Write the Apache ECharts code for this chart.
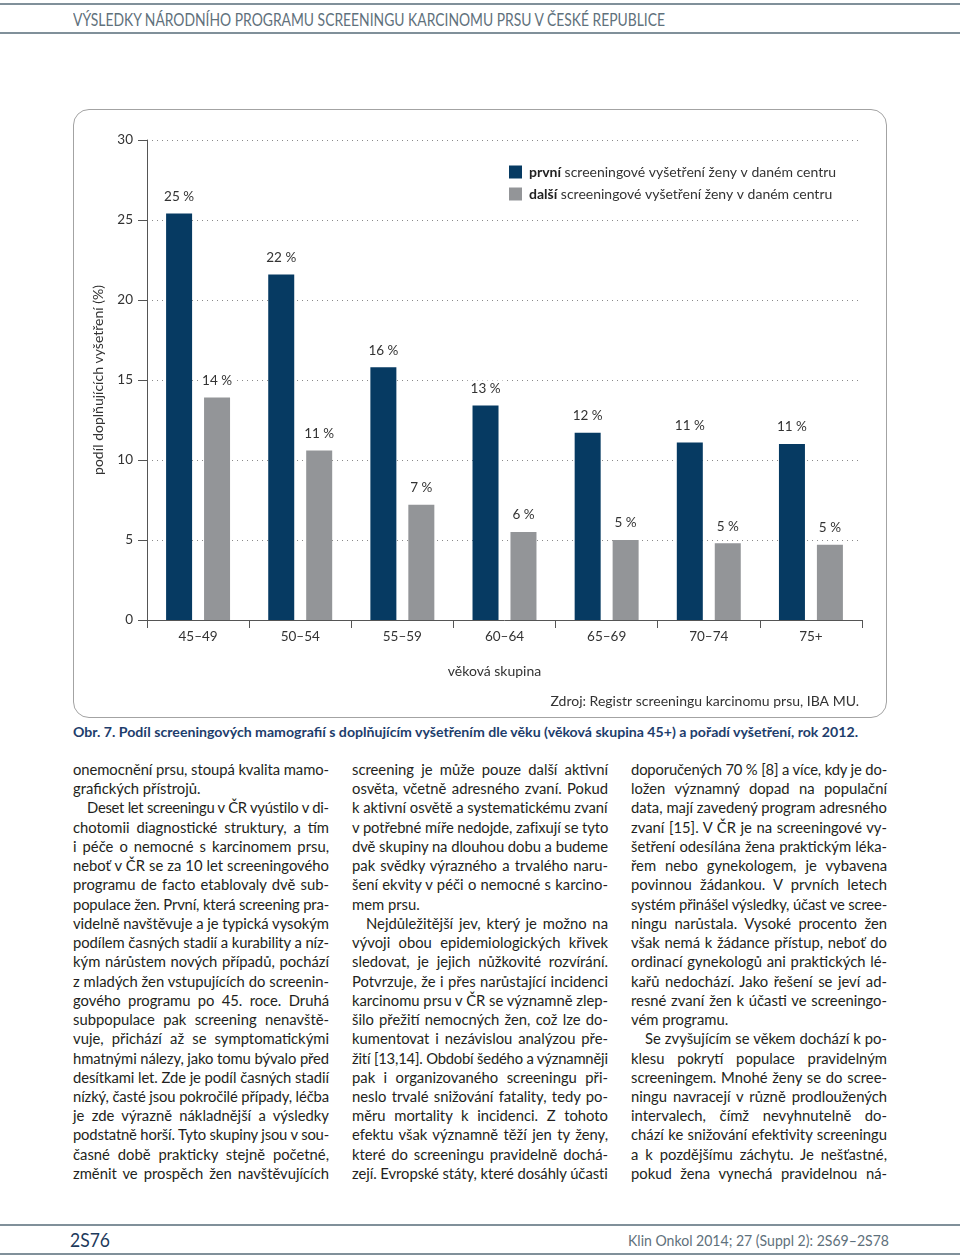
<!DOCTYPE html>
<html>
<head>
<meta charset="utf-8">
<script src="https://cdn.jsdelivr.net/npm/echarts@6/dist/echarts.min.js"></script>
<style>
  html, body { margin:0; padding:0; background:#fff; }
  body { width:960px; height:1258px; position:relative; overflow:hidden; font-family:Lato, 'Noto Sans', sans-serif; color:#231f20; }
  .rule { position:absolute; left:0; width:960px; height:2px; background:#80909a; }
  .abs { position:absolute; white-space:nowrap; }
  #box { position:absolute; left:73px; top:109px; width:814px; height:609px; box-sizing:border-box; border:1px solid #a3a3a3; border-radius:16px; }
  #chart { position:absolute; left:73px; top:109px; width:814px; height:609px; }
  .col { position:absolute; top:760px; width:256px; }
  .ln { height:19.24px; line-height:19.24px; font-size:14.8px; white-space:nowrap; }
  .ln span { display:inline-block; white-space:nowrap; }
  .ind { padding-left:14px; }
</style>
</head>
<body>
<div class="rule" style="top:3px"></div>
<div class="rule" style="top:32px"></div>
<div class="abs" id="hdr" style="left:73px; top:10px; font-size:17px; line-height:19px; font-weight:400; color:#5f717c;">VÝSLEDKY NÁRODNÍHO PROGRAMU SCREENINGU KARCINOMU PRSU V ČESKÉ REPUBLICE</div>

<div id="box"></div>
<div id="chart"></div>

<div class="abs" id="cap" style="left:73px; top:724px; font-size:14px; line-height:16px; font-weight:700; color:#1d3d6c;">Obr. 7. Podíl screeningových mamografií s doplňujícím vyšetřením dle věku (věková skupina 45+) a pořadí vyšetření, rok 2012.</div>

<div class="col" id="c1" style="left:73px"></div>
<div class="col" id="c2" style="left:352px"></div>
<div class="col" id="c3" style="left:631px"></div>

<div class="rule" style="top:1224px"></div>
<div class="rule" style="top:1253px"></div>
<div class="abs" id="pg" style="left:70px; top:1230px; font-size:19px; line-height:20px; color:#1d3a5c;">2S76</div>
<div class="abs" id="jr" style="left:628px; top:1231px; font-size:16px; line-height:18px; font-weight:400; color:#5f717c;">Klin Onkol 2014; 27 (Suppl 2): 2S69–2S78</div>

<script>
// ---- chart data ----
const categories = ['45–49', '50–54', '55–59', '60–64', '65–69', '70–74', '75+'];
const firstExam = [25.4, 21.6, 15.8, 13.4, 11.7, 11.1, 11.0];
const furtherExam = [13.9, 10.6, 7.2, 5.5, 5.0, 4.8, 4.7];
const seriesNames = ['první screeningové vyšetření ženy v daném centru', 'další screeningové vyšetření ženy v daném centru'];
const yTicks = [0, 5, 10, 15, 20, 25, 30];
const yAxisTitle = 'podíl doplňujících vyšetření (%)';
const xAxisTitle = 'věková skupina';
const sourceNote = 'Zdroj: Registr screeningu karcinomu prsu, IBA MU.';

// ---- body text (lines as printed; 'p' = paragraph-final line, 'i' = indented first line) ----
const col1 = [
  ['onemocnění prsu, stoupá kvalita mamo-',''],
  ['grafických přístrojů.','p'],
  ['Deset let screeningu v ČR vyústilo v di-','i'],
  ['chotomii diagnostické struktury, a tím',''],
  ['i péče o nemocné s karcinomem prsu,',''],
  ['neboť v ČR se za 10 let screeningového',''],
  ['programu de facto etablovaly dvě sub-',''],
  ['populace žen. První, která screening pra-',''],
  ['videlně navštěvuje a je typická vysokým',''],
  ['podílem časných stadií a kurability a níz-',''],
  ['kým nárůstem nových případů, pochází',''],
  ['z mladých žen vstupujících do screenin-',''],
  ['gového programu po 45. roce. Druhá',''],
  ['subpopulace pak screening nenavště-',''],
  ['vuje, přichází až se symptomatickými',''],
  ['hmatnými nálezy, jako tomu bývalo před',''],
  ['desítkami let. Zde je podíl časných stadií',''],
  ['nízký, časté jsou pokročilé případy, léčba',''],
  ['je zde výrazně nákladnější a výsledky',''],
  ['podstatně horší. Tyto skupiny jsou v sou-',''],
  ['časné době prakticky stejně početné,',''],
  ['změnit ve prospěch žen navštěvujících','']
];
const col2 = [
  ['screening je může pouze další aktivní',''],
  ['osvěta, včetně adresného zvaní. Pokud',''],
  ['k aktivní osvětě a systematickému zvaní',''],
  ['v potřebné míře nedojde, zafixují se tyto',''],
  ['dvě skupiny na dlouhou dobu a budeme',''],
  ['pak svědky výrazného a trvalého naru-',''],
  ['šení ekvity v péči o nemocné s karcino-',''],
  ['mem prsu.','p'],
  ['Nejdůležitější jev, který je možno na','i'],
  ['vývoji obou epidemiologických křivek',''],
  ['sledovat, je jejich nůžkovité rozvírání.',''],
  ['Potvrzuje, že i přes narůstající incidenci',''],
  ['karcinomu prsu v ČR se významně zlep-',''],
  ['šilo přežití nemocných žen, což lze do-',''],
  ['kumentovat i nezávislou analýzou pře-',''],
  ['žití [13,14]. Období šedého a významněji',''],
  ['pak i organizovaného screeningu při-',''],
  ['neslo trvalé snižování fatality, tedy po-',''],
  ['měru mortality k incidenci. Z tohoto',''],
  ['efektu však významně těží jen ty ženy,',''],
  ['které do screeningu pravidelně dochá-',''],
  ['zejí. Evropské státy, které dosáhly účasti','']
];
const col3 = [
  ['doporučených 70 % [8] a více, kdy je do-',''],
  ['ložen významný dopad na populační',''],
  ['data, mají zavedený program adresného',''],
  ['zvaní [15]. V ČR je na screeningové vy-',''],
  ['šetření odesílána žena praktickým léka-',''],
  ['řem nebo gynekologem, je vybavena',''],
  ['povinnou žádankou. V prvních letech',''],
  ['systém přinášel výsledky, účast ve scree-',''],
  ['ningu narůstala. Vysoké procento žen',''],
  ['však nemá k žádance přístup, neboť do',''],
  ['ordinací gynekologů ani praktických lé-',''],
  ['kařů nedochází. Jako řešení se jeví ad-',''],
  ['resné zvaní žen k účasti ve screeningo-',''],
  ['vém programu.','p'],
  ['Se zvyšujícím se věkem dochází k po-','i'],
  ['klesu pokrytí populace pravidelným',''],
  ['screeningem. Mnohé ženy se do scree-',''],
  ['ningu navracejí v různě prodloužených',''],
  ['intervalech, čímž nevyhnutelně do-',''],
  ['chází ke snižování efektivity screeningu',''],
  ['a k pozdějšímu záchytu. Je nešťastné,',''],
  ['pokud žena vynechá pravidelnou ná-','']
];

function buildCol(id, lines) {
  const c = document.getElementById(id);
  lines.forEach(([t, f]) => {
    const d = document.createElement('div');
    d.className = 'ln' + (f === 'i' ? ' ind' : '');
    const s = document.createElement('span');
    s.textContent = t;
    s.dataset.flag = f;
    d.appendChild(s);
    c.appendChild(d);
  });
}
buildCol('c1', col1); buildCol('c2', col2); buildCol('c3', col3);

function layoutText() {
  document.querySelectorAll('.col .ln span').forEach(s => {
    const f = s.dataset.flag;
    const target = 256 - (f === 'i' ? 14 : 0);
    s.style.wordSpacing = '0px';
    s.style.letterSpacing = '0px';
    const nat = s.getBoundingClientRect().width;
    const spaces = (s.textContent.match(/ /g) || []).length;
    if (f === 'p') {
      if (nat > target && spaces) s.style.wordSpacing = ((target - nat) / spaces) + 'px';
      return;
    }
    if (nat > target) {
      // tighten letters a little rather than crushing spaces
      const chars = s.textContent.length;
      s.style.letterSpacing = ((target - nat) / chars) + 'px';
      return;
    }
    if (spaces) s.style.wordSpacing = ((target - nat) / spaces) + 'px';
  });
  const fit = (id, w) => {
    const el = document.getElementById(id);
    el.style.transform = 'none';
    el.style.transformOrigin = 'left center';
    const nat = el.getBoundingClientRect().width;
    el.style.transform = 'scaleX(' + (w / nat) + ')';
  };
  fit('hdr', 592);
  fit('cap', 785);
  fit('pg', 40);
  fit('jr', 261);
}
layoutText();
if (document.fonts && document.fonts.ready) document.fonts.ready.then(layoutText);

// ---- chart ----
const FONT = 'Lato, "Noto Sans", sans-serif';
const chart = echarts.init(document.getElementById('chart'), null, { renderer: 'canvas' });
const labelCfg = {
  show: true, position: 'top', distance: 9,
  formatter: p => Math.round(p.value) + ' %',
  fontFamily: FONT, fontSize: 13.5, color: '#333',
  backgroundColor: '#fff', padding: [1, 3]
};
chart.setOption({
  animation: false,
  textStyle: { fontFamily: FONT },
  grid: { left: 74, right: 25, top: 31, bottom: 98 },
  legend: {
    orient: 'vertical', left: 431, top: 51,
    itemWidth: 13, itemHeight: 13, itemGap: 8, icon: 'rect',
    data: seriesNames,
    formatter: n => { const i = n.indexOf(' '); return '{b|' + n.slice(0, i) + '}' + n.slice(i); },
    textStyle: { fontFamily: FONT, fontSize: 14, color: '#333', padding: [0, 0, 0, 2],
      rich: { b: { fontFamily: FONT, fontSize: 14, fontWeight: 'bold', color: '#222' } } }
  },
  xAxis: {
    type: 'category', data: categories,
    name: xAxisTitle, nameLocation: 'middle', nameGap: 44,
    nameTextStyle: { fontFamily: FONT, fontSize: 14, color: '#333', padding: [0, 20, 0, 0] },
    axisLine: { lineStyle: { color: '#555', width: 1 } },
    axisTick: { show: true, length: 8, lineStyle: { color: '#555' } },
    axisLabel: { fontFamily: FONT, fontSize: 13.5, color: '#333', margin: 10 }
  },
  yAxis: {
    type: 'value', min: yTicks[0], max: yTicks[yTicks.length - 1], interval: 5,
    name: yAxisTitle, nameLocation: 'middle', nameGap: 42, nameRotate: 90,
    nameTextStyle: { fontFamily: FONT, fontSize: 14, color: '#333' },
    axisLine: { show: true, lineStyle: { color: '#555', width: 1 } },
    axisTick: { show: true, length: 9, lineStyle: { color: '#555' } },
    axisLabel: { fontFamily: FONT, fontSize: 13.5, color: '#333', margin: 14 },
    splitLine: { show: true, lineStyle: { color: '#8a8a8a', type: [1, 4], width: 1 } }
  },
  graphic: [{
    type: 'text', right: 28, top: 585,
    style: { text: sourceNote, fontFamily: FONT, fontSize: 14, fill: '#333' }
  }],
  series: [
    { name: seriesNames[0], type: 'bar', data: firstExam, barWidth: 26, barGap: '46%',
      itemStyle: { color: '#063a62' }, label: labelCfg },
    { name: seriesNames[1], type: 'bar', data: furtherExam, barWidth: 26, barGap: '46%',
      itemStyle: { color: '#939598' }, label: labelCfg }
  ]
});
</script>
</body>
</html>
